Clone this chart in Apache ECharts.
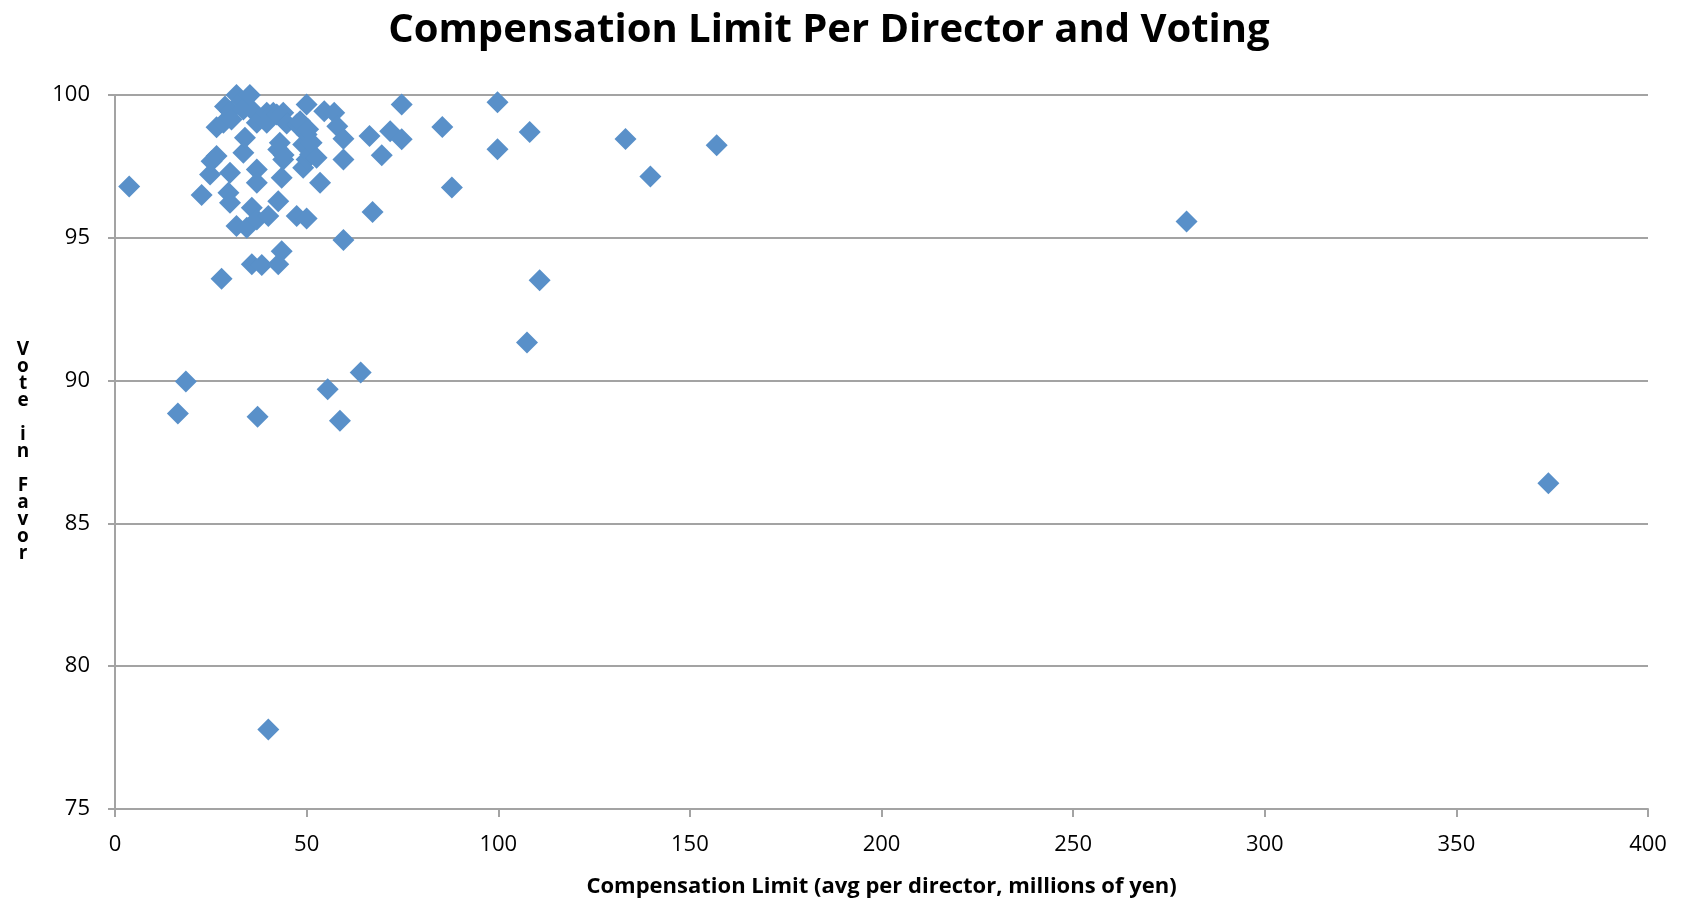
<!DOCTYPE html>
<html>
<head>
<meta charset="utf-8">
<title>Compensation Limit Per Director and Voting</title>
<script src="https://cdn.jsdelivr.net/npm/echarts@6/dist/echarts.min.js"></script>
<style>
  html, body { margin: 0; padding: 0; background: #ffffff; overflow: hidden; width: 100%; height: 100%; }
  #chart { width: 100vw; height: 100vh; }
</style>
</head>
<body>
<div id="chart"></div>
<script>
// Compensation limit per director (millions of yen) for each company
const compLimit = [
  3.7, 16.4, 18.5, 22.6, 24.8, 25.2, 26.5, 26.5, 27.8, 28.3,
  28.7, 29.6, 30.0, 30.0, 30.0, 30.4, 31.7, 31.7, 33.0, 33.5,
  33.5, 33.9, 34.4, 35.2, 35.7, 35.7, 36.1, 37.0, 37.0, 37.0,
  37.0, 37.2, 38.3, 39.6, 39.6, 40.0, 40.0, 41.3, 42.2, 42.6,
  42.6, 42.6, 43.0, 43.5, 43.5, 43.9, 43.9, 44.0, 44.8, 47.4,
  47.4, 48.3, 49.1, 49.1, 50.0, 50.0, 50.0, 50.0, 50.4, 50.9,
  51.3, 52.6, 53.5, 54.6, 55.5, 57.2, 58.0, 58.7, 59.6, 59.6,
  59.6, 64.1, 66.4, 67.2, 69.6, 71.8, 74.8, 74.8, 85.4, 87.9,
  99.8, 99.8, 108.2, 107.5, 110.8, 133.2, 139.7, 157.0, 279.6, 374.0
];

// Share of votes in favor (%) for the same companies, in the same order
const voteInFavor = [
  96.80, 88.85, 89.97, 96.50, 97.22, 97.68, 97.86, 98.87, 93.57, 99.03,
  99.60, 96.58, 96.23, 97.28, 99.43, 99.14, 100.00, 95.41, 99.78, 99.49,
  97.98, 98.50, 95.35, 100.00, 96.05, 94.07, 99.43, 99.03, 97.39, 96.93,
  95.64, 88.73, 94.05, 99.38, 99.03, 95.76, 77.78, 99.38, 99.32, 98.09,
  96.28, 94.07, 98.33, 97.10, 94.53, 99.38, 97.74, 97.90, 99.00, 98.97,
  95.76, 99.08, 98.27, 97.45, 99.67, 98.62, 97.74, 95.68, 98.80, 97.92,
  98.33, 97.80, 96.93, 99.43, 89.70, 99.38, 98.91, 88.59, 98.47, 97.74,
  94.92, 90.28, 98.56, 95.90, 97.89, 98.73, 99.67, 98.45, 98.88, 96.76,
  99.75, 98.10, 98.70, 91.33, 93.51, 98.46, 97.15, 98.24, 95.57, 86.41
];

const xTicks = { min: 0, max: 400, interval: 50 };
const yTicks = { min: 75, max: 100, interval: 5 };

const titleText = 'Compensation Limit Per Director and Voting';
const xName = 'Compensation Limit (avg per director, millions of yen)';
const yName = 'Vote in Favor';

const points = compLimit.map((x, i) => [x, voteInFavor[i]]);

const gridColor = '#a3a3a3';
const font = '"Open Sans", "Noto Sans", "DejaVu Sans", sans-serif';

const chart = echarts.init(document.getElementById('chart'), null, { renderer: 'canvas' });

chart.setOption({
  backgroundColor: '#ffffff',
  animation: false,
  title: {
    text: titleText,
    left: 824,
    textAlign: 'center',
    top: 6,
    textStyle: {
      fontFamily: font,
      fontSize: 40,
      fontWeight: 'bold',
      color: '#000000'
    }
  },
  grid: {
    left: 115,
    right: 34,
    top: '10.52%',
    bottom: '10.3%',
    containLabel: false
  },
  xAxis: {
    type: 'value',
    min: xTicks.min,
    max: xTicks.max,
    interval: xTicks.interval,
    name: xName,
    nameLocation: 'middle',
    nameGap: 67,
    nameTextStyle: {
      fontFamily: font,
      fontSize: 22,
      fontWeight: 'bold',
      color: '#000000'
    },
    axisLine: { show: true, lineStyle: { color: gridColor, width: 2 } },
    axisTick: { show: true, inside: false, length: 8, lineStyle: { color: gridColor, width: 2 } },
    axisLabel: {
      margin: 25,
      fontFamily: font,
      fontSize: 22,
      color: '#000000'
    },
    splitLine: { show: false }
  },
  yAxis: {
    type: 'value',
    min: yTicks.min,
    max: yTicks.max,
    interval: yTicks.interval,
    name: yName.split('').join('\n'),
    nameLocation: 'middle',
    nameRotate: 0,
    nameGap: 92,
    nameTextStyle: {
      fontFamily: font,
      fontSize: 19,
      fontWeight: 'bold',
      color: '#000000',
      lineHeight: 17,
      align: 'center'
    },
    axisLine: { show: true, lineStyle: { color: gridColor, width: 2 } },
    axisTick: { show: true, inside: false, length: 7, lineStyle: { color: gridColor, width: 2 } },
    axisLabel: {
      margin: 25,
      fontFamily: font,
      fontSize: 22,
      color: '#000000'
    },
    splitLine: { show: true, lineStyle: { color: gridColor, width: 2 } }
  },
  series: [{
    type: 'scatter',
    data: points,
    symbol: 'diamond',
    symbolSize: 22,
    itemStyle: {
      color: '#5990c9',
      opacity: 1
    }
  }]
});
</script>
</body>
</html>
